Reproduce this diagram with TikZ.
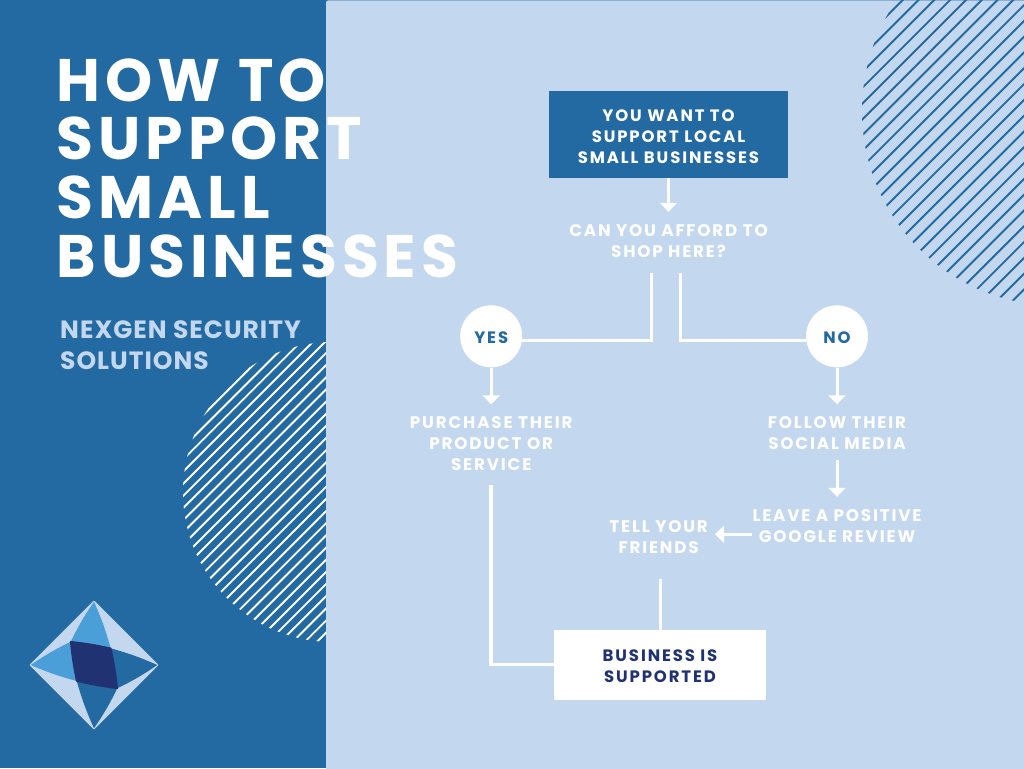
\documentclass[tikz,border=0pt]{standalone}
\usepackage{fontspec}
\usetikzlibrary{arrows.meta,calc}
\setmainfont{Poppins}
\newfontfamily\titlefont[LetterSpace=8.2]{Poppins}
\newfontfamily\subfont[LetterSpace=4]{Poppins}
\newfontfamily\flowfont[LetterSpace=10.7]{Poppins}
\newfontfamily\boxfont[LetterSpace=11.4]{Poppins}
\newcommand{\lift}{\rule{0pt}{14.4pt}}
\newcommand{\liftless}{\rule{0pt}{12.4pt}}
\newcommand{\liftmore}{\rule{0pt}{16.4pt}}
\definecolor{deepblue}{HTML}{2369A2}
\definecolor{paleblue}{HTML}{C3D7EF}
\definecolor{navy}{HTML}{213272}
\definecolor{skyblue}{HTML}{4A9FD9}
\tikzset{
  flowtext/.style={font=\flowfont\fontsize{16.8}{21}\selectfont\bfseries,align=center,inner sep=0pt,text=white},
  twoline/.style={flowtext,minimum height=46pt},
  threeline/.style={flowtext,minimum height=67pt},
  answer/.style={circle,fill=white,minimum size=62pt,inner sep=0pt,text=deepblue,font=\boxfont\fontsize{16.5}{21}\selectfont\bfseries},
  box/.style={inner sep=0pt,align=center,font=\boxfont\fontsize{16.5}{21}\selectfont\bfseries},
  flowarrow/.style={white,line width=3pt,-{Triangle[length=9pt,width=17pt]}},
  flowline/.style={white,line width=3pt,line join=miter},
  hatch/.style={line width=1.9pt}
}
\begin{document}
\begin{tikzpicture}[x=1pt,y=-1pt]
\useasboundingbox (0,0) rectangle (1024,768);
\clip (0,0) rectangle (1024,768);
\fill[deepblue] (0,0) rectangle (1024,768);
\fill[paleblue,rounded corners=2pt] (326,0.5) rectangle (1030,775);
% left hatched half disc
\begin{scope}
  \clip (0,300) rectangle (326,700);
  \clip (333,492) circle[radius=150];
  \foreach \k in {0,...,28}{
    \pgfmathsetmacro{\c}{618.3+12.16*\k}
    \draw[hatch,white] (\c-700,700) -- (\c-200,200);
  }
\end{scope}
% right hatched disc
\begin{scope}
  \clip (1056.5,111) circle[radius=194.5];
  \foreach \k in {0,...,28}{
    \pgfmathsetmacro{\c}{902.7+15.8*\k}
    \draw[hatch,deepblue] (\c-500,500) -- (\c+100,-100);
  }
\end{scope}
% logo
\coordinate (lt) at (94,601.7);
\coordinate (lr) at (157.3,665);
\coordinate (lb) at (94,728.3);
\coordinate (ll) at (30.7,665);
\coordinate (c1) at (70.7,641.7);
\coordinate (c2) at (110.7,648.3);
\coordinate (c3) at (117.3,688.3);
\coordinate (c4) at (76.7,681);
\fill[paleblue,draw=paleblue,line width=2pt,line join=round] (lt) -- (lr) -- (lb) -- (ll) -- cycle;
\fill[skyblue] (lt) to[bend right=4] (c1) to[bend right=4] (c2) to[bend right=4] cycle;
\fill[skyblue] (ll) to[bend left=4] (c1) to[bend left=4] (c4) to[bend left=4] cycle;
\fill[deepblue] (lr) to[bend right=4] (c2) to[bend left=4] (c3) to[bend right=4] cycle;
\fill[deepblue] (lb) to[bend left=4] (c4) to[bend right=4] (c3) to[bend left=4] cycle;
\fill[navy,draw=navy,line width=1.5pt,line join=round] (c1) to[bend left=3] (c2) to[bend left=3] (c3) to[bend left=3] (c4) to[bend left=3] cycle;
% titles
\node[anchor=west,inner sep=0pt,align=left,text=white,font=\titlefont\fontsize{60}{58.7}\selectfont\bfseries] (title) at (56.5,168) {HOW TO\\SUPPORT\\SMALL\\BUSINESSES};
\node[anchor=west,inner sep=0pt,align=left,text=paleblue,font=\subfont\fontsize{25}{31}\selectfont\bfseries] (sub) at (60,345) {NEXGEN SECURITY\\SOLUTIONS};
% flow nodes
\node[box,fill=deepblue,text=white,minimum width=239pt,minimum height=87pt] (start) at (668.5,134.5) {\liftmore YOU WANT TO\\SUPPORT LOCAL\\SMALL BUSINESSES};
\node[twoline] (afford) at (668.5,240.5) {\liftless CAN YOU AFFORD TO\\SHOP HERE?};
\node[answer] (yes) at (491.2,336.3) {\lift YES};
\node[answer] (no) at (837,336.3) {\lift NO};
\node[threeline] (purchase) at (491.2,443) {\liftless PURCHASE THEIR\\PRODUCT OR\\SERVICE};
\node[twoline] (follow) at (837,432.5) {\liftless FOLLOW THEIR\\SOCIAL MEDIA};
\node[twoline] (review) at (837,525.5) {\liftless LEAVE A POSITIVE\\GOOGLE REVIEW};
\node[twoline] (friends) at (658.7,536.5) {\liftless TELL YOUR\\FRIENDS};
\node[box,fill=white,text=navy,minimum width=212pt,minimum height=70pt] (done) at (660,665) {\lift BUSINESS IS\\SUPPORTED};
\coordinate (afford L) at (651.7,272.7);
\coordinate (afford R) at (680.7,272.7);
\coordinate (corner L) at (651.7,340);
\coordinate (corner R) at (680.7,340);
\coordinate (friends foot) at (660,579.3);
% connectors
\draw[flowarrow,shorten >=5.5pt] (start.south) -- (afford.north -| start.south);
\draw[flowline] (afford L) -- (corner L) -- (corner L -| yes.east);
\draw[flowline] (afford R) -- (corner R) -- (corner R -| no.west);
\draw[flowarrow,shorten >=5pt] (yes.south) -- (purchase.north);
\draw[flowarrow,shorten >=5pt] (no.south) -- (follow.north);
\draw[flowarrow,shorten <=4.5pt,shorten >=5.5pt] (follow.south) -- (review.north);
\draw[flowarrow] (review.west) ++(0,8.8) -- (715,534.3);
\draw[white,line width=3pt] (friends foot) -- (friends foot |- done.north);
\draw[white,line width=3pt] (491,664) -- (done.west |- 0,664);
\draw[white,line width=4pt,shorten <=8.5pt] (purchase.south) -- (purchase.south |- 0,665.5);
\end{tikzpicture}
\end{document}
